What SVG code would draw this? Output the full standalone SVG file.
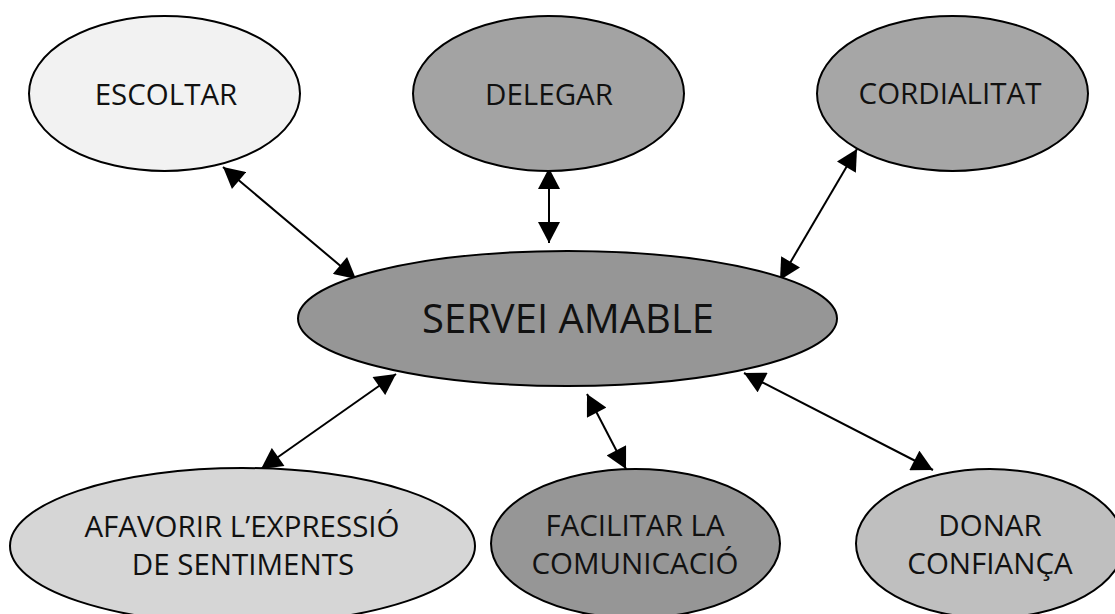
<svg xmlns="http://www.w3.org/2000/svg" width="1115" height="614" viewBox="0 0 1115 614">
<style>
.n{stroke:#000;stroke-width:2}
.t{font-family:"Open Sans","Noto Sans","DejaVu Sans",sans-serif;font-size:29.5px;fill:#111;text-anchor:middle}
.big{font-size:40px}
.c{stroke:#000;stroke-width:2;fill:none;marker-start:url(#ah);marker-end:url(#ah)}
</style>
<defs>
<marker id="ah" markerUnits="userSpaceOnUse" markerWidth="22" markerHeight="22" refX="20" refY="10.5" orient="auto-start-reverse" viewBox="0 0 20 21">
<path d="M0,0 L20,10.5 L0,21 z" fill="#000"/>
</marker>
</defs>
<rect width="1115" height="614" fill="#fff"/>
<g id="connectors">
<line class="c" x1="223" y1="167" x2="356" y2="279"/>
<line class="c" x1="549" y1="168" x2="549" y2="243"/>
<line class="c" x1="857" y1="149" x2="780" y2="280"/>
<line class="c" x1="396" y1="374" x2="261" y2="469"/>
<line class="c" x1="587" y1="394" x2="626" y2="469"/>
<line class="c" x1="744" y1="373" x2="933" y2="470"/>
</g>
<g id="escoltar">
<ellipse class="n" cx="164.5" cy="93.5" rx="135.5" ry="77.5" fill="#f2f2f2"/>
<text class="t" x="166" y="105">ESCOLTAR</text>
</g>
<g id="delegar">
<ellipse class="n" cx="548.5" cy="93.5" rx="135.5" ry="77.5" fill="#a3a3a3"/>
<text class="t" x="549" y="105">DELEGAR</text>
</g>
<g id="cordialitat">
<ellipse class="n" cx="952.5" cy="93.5" rx="135.5" ry="77.5" fill="#a6a6a6"/>
<text class="t" x="950" y="104">CORDIALITAT</text>
</g>
<g id="servei">
<ellipse class="n" cx="567.5" cy="318.5" rx="269.5" ry="67.5" fill="#969696"/>
<text class="t big" x="568" y="333">SERVEI AMABLE</text>
</g>
<g id="afavorir">
<ellipse class="n" cx="242.5" cy="546" rx="232.5" ry="78" fill="#d6d6d6"/>
<text class="t" x="242" y="537">AFAVORIR L’EXPRESSIÓ</text>
<text class="t" x="243" y="575">DE SENTIMENTS</text>
</g>
<g id="facilitar">
<ellipse class="n" cx="635.5" cy="543.5" rx="144.5" ry="74.5" fill="#969696"/>
<text class="t" x="635" y="536">FACILITAR LA</text>
<text class="t" x="635" y="574">COMUNICACIÓ</text>
</g>
<g id="donar">
<ellipse class="n" cx="990" cy="543.5" rx="134" ry="74.5" fill="#bfbfbf"/>
<text class="t" x="990" y="536">DONAR</text>
<text class="t" x="990" y="574">CONFIANÇA</text>
</g>
</svg>
